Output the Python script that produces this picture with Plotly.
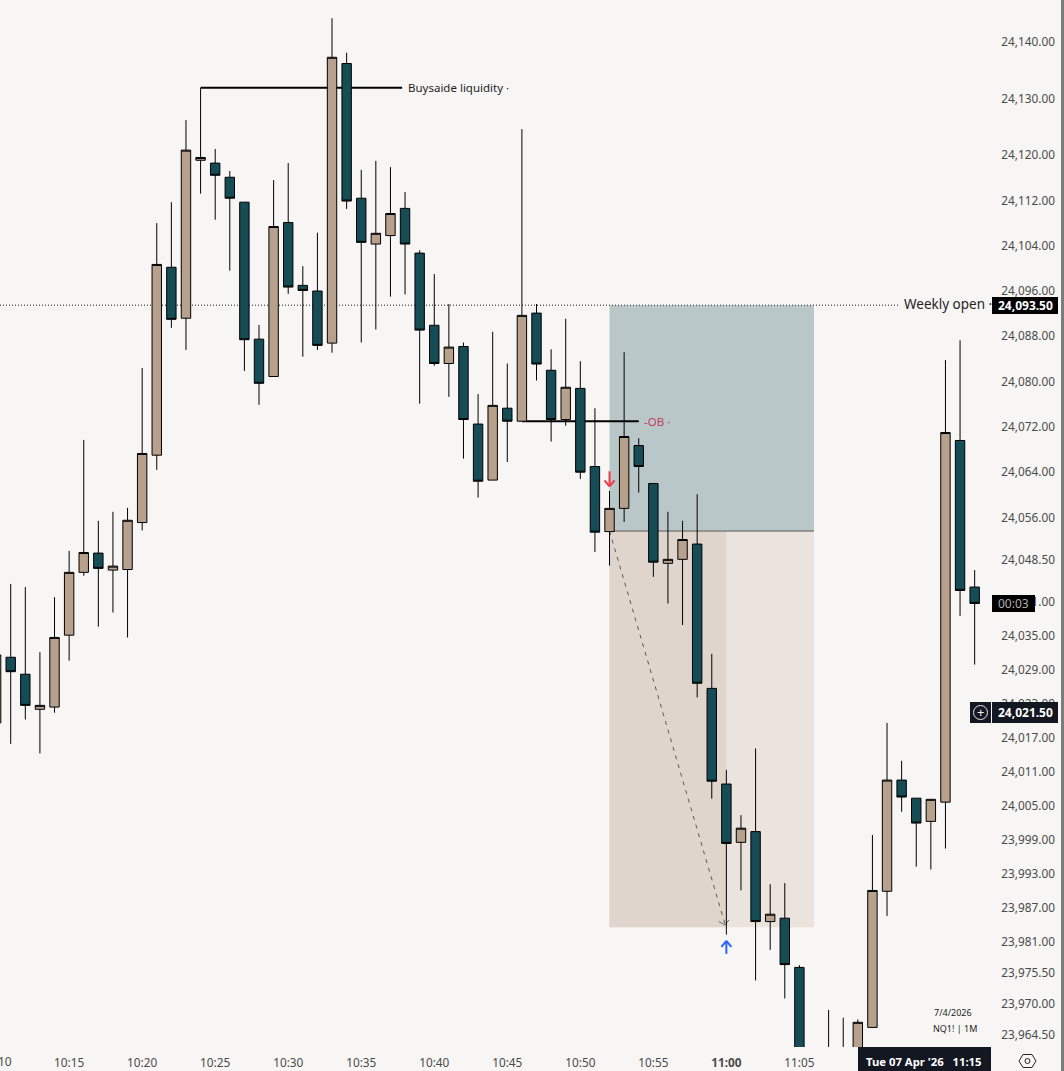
import plotly.graph_objects as go

# Minute bars, 10:10 to 11:17 on 2026-04-07
hours = [10] * 50 + [11] * 18
minutes = list(range(10, 60)) + list(range(0, 18))
times = [f"2026-04-07 {h:02d}:{m:02d}" for h, m in zip(hours, minutes)]

opens = [24019.7, 24031.3, 24028.3, 24022.1, 24022.5, 24035.2, 24046.3, 24049.7, 24046.7, 24046.8,
         24055.1, 24067.0, 24100.2, 24091.2, 24119.1, 24118.6, 24116.1, 24111.7, 24087.5, 24080.9,
         24108.1, 24097.0, 24096.0, 24086.8, 24136.2, 24112.4, 24104.3, 24105.8, 24110.6, 24102.7,
         24089.95, 24083.2, 24086.2, 24072.5, 24062.6, 24075.3, 24073.0, 24092.1, 24082.0, 24073.3,
         24078.8, 24065.0, 24053.5, 24057.6, 24068.7, 24062.0, 24047.9, 24048.6, 24051.3, 24025.8,
         24008.9, 23998.6, 24000.5, 23984.6, 23985.2, 23976.5, 23955.0, 23958.0, 23950.0, 23955.0,
         23965.9, 23989.95, 24009.6, 24006.4, 24002.3, 24005.7, 24069.6, 24043.7]
highs = [24032.6, 24044.25, 24043.7, 24032.2, 24041.9, 24050.1, 24069.7, 24055.4, 24057.0, 24057.7,
         24082.4, 24108.0, 24111.7, 24126.2, 24131.9, 24121.1, 24117.2, 24111.7, 24090.0, 24115.6,
         24118.6, 24100.4, 24106.3, 24144.2, 24138.1, 24117.4, 24119.0, 24117.9, 24113.5, 24103.2,
         24099.0, 24093.7, 24086.9, 24077.8, 24088.8, 24083.2, 24124.6, 24093.7, 24085.7, 24091.1,
         24083.6, 24075.3, 24060.7, 24085.2, 24070.0, 24062.0, 24057.0, 24055.4, 24060.1, 24031.9,
         24011.4, 24003.4, 24015.2, 23991.2, 23991.4, 23976.9, 23958.0, 23969.0, 23967.6, 23967.3,
         23999.9, 24019.7, 24013.0, 24006.4, 24006.2, 24083.8, 24087.3, 24046.7]
lows = [24018.4, 24016.0, 24020.3, 24014.3, 24021.5, 24030.7, 24045.7, 24036.7, 24039.2, 24034.8,
        24053.7, 24064.4, 24089.5, 24085.6, 24113.2, 24108.6, 24099.6, 24081.9, 24075.9, 24080.9,
        24095.5, 24084.4, 24085.6, 24085.1, 24110.5, 24086.9, 24089.2, 24095.0, 24095.4, 24076.1,
        24082.8, 24077.3, 24066.4, 24059.5, 24062.6, 24065.8, 24073.0, 24080.2, 24069.4, 24072.2,
        24062.8, 24049.9, 24047.5, 24055.2, 24060.4, 24045.5, 24040.8, 24037.0, 24024.2, 24006.3,
        23982.3, 23990.1, 23974.2, 23979.6, 23971.0, 23950.0, 23945.0, 23945.0, 23945.0, 23950.0,
        23965.9, 23985.6, 24004.0, 23994.3, 23993.8, 23997.5, 24038.6, 24030.0]
closes = [24031.7, 24028.75, 24022.8, 24022.8, 24034.8, 24046.3, 24049.8, 24047.0, 24047.4, 24055.5,
          24067.3, 24100.7, 24091.0, 24120.9, 24119.6, 24116.45, 24112.4, 24087.4, 24079.7, 24107.4,
          24096.7, 24096.1, 24086.4, 24137.3, 24111.9, 24104.6, 24106.2, 24109.7, 24104.3, 24089.1,
          24083.2, 24086.1, 24073.3, 24062.4, 24075.8, 24073.0, 24091.7, 24083.1, 24073.3, 24079.0,
          24064.0, 24053.4, 24057.6, 24070.3, 24065.0, 24048.1, 24048.6, 24052.1, 24026.7, 24009.4,
          23998.4, 24001.1, 23984.6, 23985.9, 23977.0, 23955.0, 23950.0, 23950.0, 23958.0, 23966.8,
          23990.1, 24009.6, 24006.6, 24002.0, 24006.2, 24071.0, 24043.1, 24040.8]

price_ticks = [24140, 24130, 24120, 24112, 24104, 24096, 24088, 24080, 24072, 24064, 24056, 24048.5,
               24041, 24035, 24029, 24023, 24017, 24011, 24005, 23999, 23993, 23987, 23981, 23975.5,
               23970, 23964.5]
time_ticks = ["10:15", "10:20", "10:25", "10:30", "10:35", "10:40", "10:45", "10:50", "10:55", "11:00", "11:05"]

weekly_open = 24093.5
last_price = 24021.5
zone_top = 24093.5
zone_mid = 24053.6
zone_bot = 23983.6
buyside_level = 24131.9
ob_level = 24073.0

DAY = "2026-04-07 "
BG = "#F7F6F4"
TAN = "#B7A08C"
TEAL = "#154C55"
FONT = "Noto Sans"
PW, PH = 990, 1047

def px(x):
    return x / PW

def py(y):
    return 1 - y / PH

fig = go.Figure(go.Candlestick(
    x=times, open=opens, high=highs, low=lows, close=closes,
    increasing=dict(fillcolor=TAN, line=dict(color="#000000", width=1)),
    decreasing=dict(fillcolor=TEAL, line=dict(color="#000000", width=1)),
    whiskerwidth=0, hoverinfo="skip",
))

def below_rect(x0, x1, y0, y1, color):
    fig.add_shape(type="rect", layer="below", x0=DAY + x0, x1=DAY + x1, y0=y0, y1=y1,
                  fillcolor=color, line_width=0)

def below_line(x0, x1, y0, y1, color, width=1, dash="solid"):
    fig.add_shape(type="line", layer="below", x0=DAY + x0, x1=DAY + x1, y0=y0, y1=y1,
                  line=dict(color=color, width=width, dash=dash))

below_rect("10:52", "11:06", zone_mid, zone_top, "#B9C7C8")
below_rect("10:52", "11:06", zone_bot, zone_mid, "#EBE3DE")
below_rect("10:52", "11:00", zone_bot, zone_mid, "#DFD5CD")
below_line("10:52", "11:06", zone_mid, zone_mid, "#5A5A58")
below_line("10:10:16", "11:11:45", weekly_open, weekly_open, "#1A1A1A", 1, "1px,2px")
below_line("10:24", "10:37:48", buyside_level, buyside_level, "#000000", 2)
below_line("10:46", "10:54", ob_level, ob_level, "#000000", 2)
below_line("10:52", "10:59:54", zone_mid, 23984.2, "#5E5852", 1, "4px,5px")

def glyph_line(t, price, x0, y0, x1, y1, color, width=1, layer="below"):
    fig.add_shape(type="line", layer=layer, xref="x", yref="y",
                  xsizemode="pixel", ysizemode="pixel",
                  xanchor=DAY + t, yanchor=price,
                  x0=x0, y0=y0, x1=x1, y1=y1, line=dict(color=color, width=width))

# head of the dashed arrow
for dx, dy in ((-6, 3.5), (4, 5)):
    glyph_line("10:59:54", 23984.0, 0, 0, dx, dy, "#6E6862")

# red and blue entry arrows
for x1, y1 in ((0, 15), (-5, 6), (5, 6)):
    glyph_line("10:52", 24061.5, 0, 0, x1, y1, "#F23645", 2, "above")
for x1, y1 in ((0, -13), (-5, -6), (5, -6)):
    glyph_line("11:00", 23981.2, 0, 0, x1, y1, "#2962FF", 2, "above")

def note(text, x, y, color="#1E1E1E", size=12, anchor="left", bold=False, bg=None):
    fig.add_annotation(xref="paper", yref="paper", x=px(x), y=py(y), text=f"<b>{text}</b>" if bold else text,
                       showarrow=False, xanchor=anchor, yanchor="middle", align="left", bgcolor=bg,
                       font=dict(family=FONT, size=size, color=color), borderpad=0)

note("Buysaide liquidity ·", 407, 88, size=11.5)
note("Weekly open ·", 903, 304, size=13.5)
note("-OB ·", 643, 421, color="#C2405A", size=11.5)
note("7/4/2026", 953, 1012, size=9, anchor="center")
note("NQ1! | 1M", 955, 1028, size=9, anchor="center")

# overlays on the scales
def box(x0, x1, y0, y1, color):
    fig.add_shape(type="rect", xref="paper", yref="paper", x0=px(x0), x1=px(x1), y0=py(y1), y1=py(y0),
                  fillcolor=color, line_width=0, layer="above")

box(1061, 1064, 0, 1071, "#7C7C7C")
box(992, 1058, 297, 314, "#000000")
box(992, 1035, 595, 612, "#000000")
box(970, 991, 702, 723, "#131722")
box(992, 1058, 702, 723, "#131722")
box(858, 991, 1047, 1071, "#131722")
fig.add_shape(type="circle", xref="paper", yref="paper", x0=px(973.5), x1=px(987.5), y0=py(719.5), y1=py(705.5),
              line=dict(color="#E8E8E8", width=1), fillcolor="rgba(0,0,0,0)")
note("+", 980.5, 712, color="#F0F0F0", size=13, anchor="center")
note("24,093.50", 1025, 305.5, color="#FFFFFF", size=12, anchor="center", bold=True)
note("00:03", 1013.5, 603.5, color="#B0B0B0", size=12, anchor="center")
note("24,021.50", 1025, 712, color="#FFFFFF", size=12, anchor="center", bold=True)
note("Tue 07 Apr '26 &nbsp; 11:15", 924, 1061, color="#FFFFFF", size=11.3, anchor="center", bold=True)
note("10:10", -4, 1061, color="#4A4A4A", size=12, anchor="center")

# settings icon
hexagon = [(1019, 1061), (1023, 1054.5), (1032, 1054.5), (1036, 1061), (1032, 1067.5), (1023, 1067.5)]
path = "M " + " L ".join(f"{px(a):.5f},{py(b):.5f}" for a, b in hexagon) + " Z"
fig.add_shape(type="path", xref="paper", yref="paper", path=path, line=dict(color="#222222", width=1))
fig.add_shape(type="circle", xref="paper", yref="paper", x0=px(1025), x1=px(1030), y0=py(1063.5), y1=py(1058.5),
              line=dict(color="#222222", width=1))

fig.update_layout(
    width=1064, height=1071, autosize=False,
    margin=dict(l=0, r=74, t=0, b=24),
    paper_bgcolor=BG, plot_bgcolor=BG, showlegend=False, boxgap=0.08,
    font=dict(family=FONT, size=11.8, color="#4A4A4A"),
    xaxis=dict(type="date", range=["2026-04-07 10:10:16", "2026-04-07 11:18:03"],
               rangeslider=dict(visible=False), showgrid=False, zeroline=False, showline=False,
               tickmode="array", tickvals=[DAY + t for t in time_ticks],
               ticktext=[f"<b>{t}</b>" if t == "11:00" else t for t in time_ticks],
               ticks="outside", ticklen=5, tickcolor="rgba(0,0,0,0)", tickangle=0),
    yaxis=dict(side="right", range=[23962.44, 24147.42], showgrid=False, zeroline=False, showline=False,
               tickmode="array", tickvals=price_ticks, ticktext=[f"{v:,.2f}" for v in price_ticks],
               ticks="outside", ticklen=8, tickcolor="rgba(0,0,0,0)"),
)

fig.write_html("out.html", config=dict(displayModeBar=False),
               post_script="document.body.style.margin='0';document.documentElement.style.overflow='hidden';")
